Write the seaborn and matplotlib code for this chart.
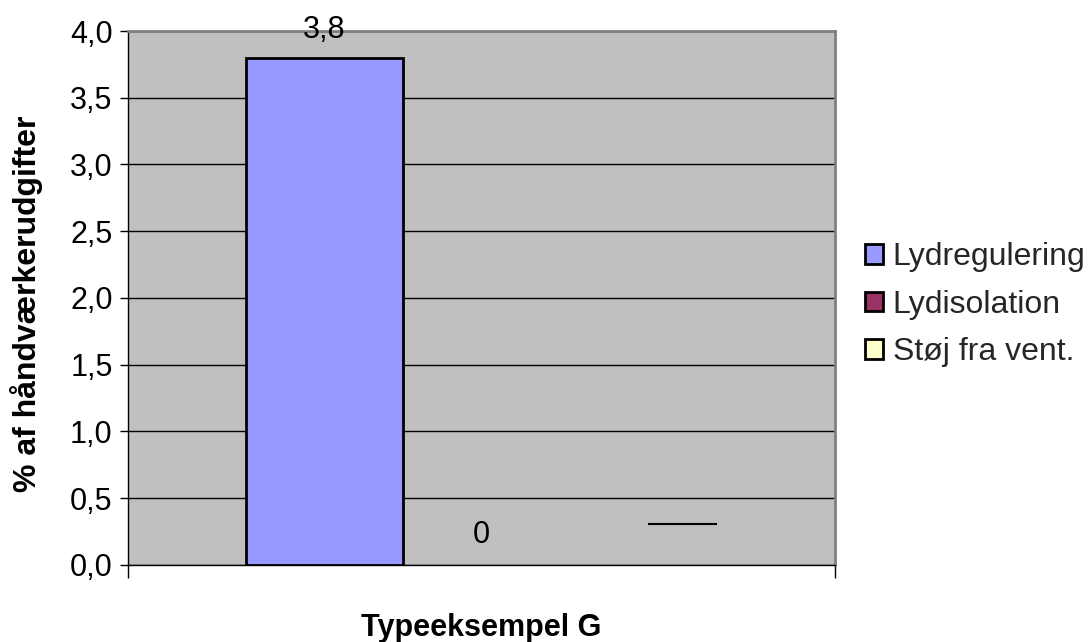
import matplotlib
matplotlib.use("Agg")
import matplotlib.pyplot as plt
import matplotlib.ticker as mticker
from matplotlib.patches import Patch
import seaborn as sns
import pandas as pd
import numpy as np

category = ["Typeeksempel G"]
series = ["Lydregulering", "Lydisolation", "Støj fra vent."]
values = [3.8, 0.0, 0.0]
colors = ["#9999FF", "#993366", "#FFFFCC"]
labels = ["3,8", "0", ""]
label_pads = [9, 11, 0]
dash_value = 0.31

sns.set_theme(style="white")
plt.rcParams['font.family'] = ['Liberation Sans', 'DejaVu Sans']

df = pd.DataFrame({"cat": category * len(series), "series": series, "value": values})

fig = plt.figure(figsize=(10.88, 6.42), dpi=100)
ax = fig.add_axes([0.1176, 0.120, 0.65, 0.8317])
ax.set_facecolor("#C0C0C0")

sns.barplot(data=df, x="cat", y="value", hue="series", palette=colors,
            hue_order=series, width=2/3, edgecolor="black", linewidth=2,
            ax=ax, legend=False, saturation=1)

for cont in ax.containers:
    for p in cont:
        if p.get_height() == 0:
            p.set_linewidth(0)

ax.set_xlim(-0.5, 0.5)
ax.set_ylim(0, 4.0)
ax.yaxis.set_major_locator(mticker.MultipleLocator(0.5))
ax.yaxis.set_major_formatter(mticker.FuncFormatter(lambda v, p: f"{v:.1f}".replace(".", ",")))
ax.grid(axis="y", color="black", linewidth=1)
ax.set_axisbelow(True)

ax.set_xticks([-0.5, 0.5])
ax.set_xticklabels([])
ax.tick_params(axis="x", direction="out", length=9, width=1, color="black", bottom=True)
ax.tick_params(axis="y", direction="out", length=6, width=1, color="black", left=True,
               labelsize=22, pad=5, labelcolor="black")

for s in ["top", "right"]:
    ax.spines[s].set_color("#808080")
    ax.spines[s].set_linewidth(2)
for s in ["left", "bottom"]:
    ax.spines[s].set_color("black")
    ax.spines[s].set_linewidth(1)

for cont, lab, pad in zip(ax.containers, labels, label_pads):
    if lab:
        ax.bar_label(cont, labels=[lab], padding=pad, fontsize=22, color="black")

p3 = ax.containers[2][0]
ax.hlines(dash_value, p3.get_x() + p3.get_width() * 0.56, p3.get_x() + p3.get_width(),
          color="black", linewidth=1.5)

ax.set_xlabel("Typeeksempel G", fontsize=22, fontweight="bold", color="black")
ax.xaxis.set_label_coords(0.5, -0.09)
ax.set_ylabel("% af håndværkerudgifter", fontsize=23, fontweight="bold", color="black")
ax.yaxis.set_label_coords(-0.12, 0.49)

handles = [Patch(facecolor=c, edgecolor="black", linewidth=2) for c in colors]
ax.legend(handles, series, loc="center left", bbox_to_anchor=(1.042, 0.487),
          frameon=False, fontsize=23, handlelength=0.57, handleheight=0.57,
          handletextpad=0.3, labelspacing=0.55, borderaxespad=0, borderpad=0)

fig.savefig("out.png", dpi=100)
